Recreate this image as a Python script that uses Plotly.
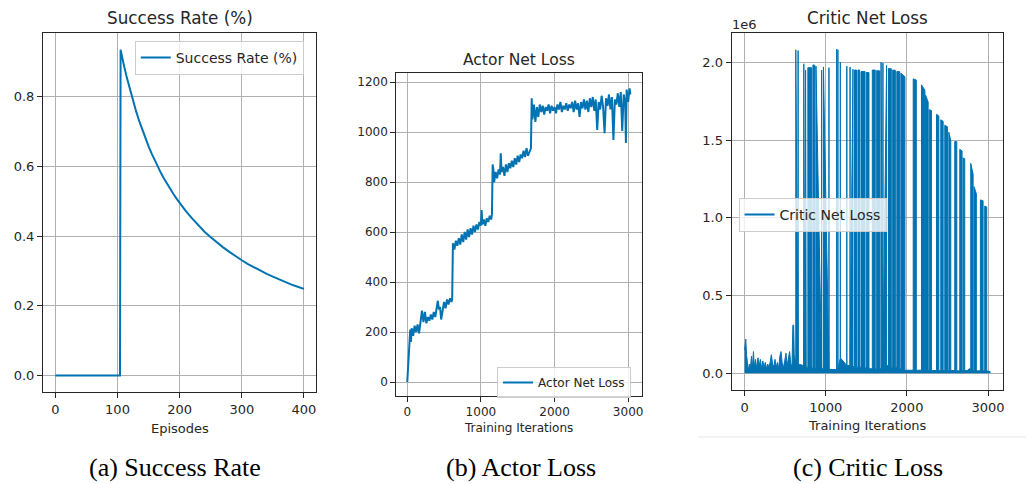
import plotly.graph_objects as go

# ---------------- data ----------------
episodes = [0, 50, 104, 105, 107, 110, 115, 120, 125, 130, 135, 140, 145, 150, 155, 160,
            165, 170, 175, 180, 185, 190, 195, 200, 210, 220, 230, 240, 250, 260, 270,
            280, 290, 300, 310, 320, 330, 340, 350, 360, 370, 380, 390, 400]
success_rate = [0.0, 0.0, 0.0, 0.935, 0.915, 0.893, 0.855, 0.82, 0.787, 0.758, 0.73, 0.704,
                0.68, 0.658, 0.637, 0.617, 0.599, 0.581, 0.565, 0.549, 0.535, 0.521, 0.508,
                0.495, 0.472, 0.451, 0.431, 0.413, 0.397, 0.382, 0.368, 0.355, 0.342, 0.331,
                0.32, 0.31, 0.301, 0.292, 0.284, 0.276, 0.268, 0.261, 0.255, 0.249]

actor_iters = [0, 10, 20, 30, 40, 50, 60, 80, 100, 120, 140, 160, 180, 200, 220, 240, 260,
               280, 300, 320, 340, 360, 380, 400, 415, 430, 445, 460, 480, 500, 520, 540,
               560, 580, 600, 610, 620, 640, 660, 680, 700, 720, 740, 760, 780, 800, 820,
               840, 860, 880, 900, 920, 940, 960, 980, 1000, 1010, 1020, 1040, 1060, 1080,
               1100, 1120, 1140, 1150, 1160, 1170, 1180, 1200, 1220, 1240, 1260, 1270, 1280,
               1300, 1320, 1340, 1360, 1380, 1400, 1420, 1440, 1460, 1480, 1500, 1520, 1540,
               1560, 1580, 1600, 1620, 1640, 1660, 1680, 1690, 1700, 1720, 1740, 1760, 1780,
               1800, 1820, 1840, 1860, 1880, 1900, 1920, 1940, 1960, 1980, 2000, 2020, 2040,
               2060, 2080, 2100, 2120, 2140, 2160, 2180, 2200, 2220, 2240, 2260, 2280, 2300,
               2320, 2340, 2360, 2380, 2400, 2420, 2440, 2460, 2480, 2500, 2520, 2540, 2560,
               2580, 2600, 2620, 2640, 2660, 2680, 2700, 2720, 2740, 2760, 2780, 2800, 2820,
               2840, 2860, 2880, 2900, 2920, 2940, 2960, 2970, 2980, 3000, 3020, 3030]
actor_loss = [0, 60, 130, 170, 210, 160, 215, 185, 225, 200, 230, 195, 240, 285, 240, 280, 235,
              260, 245, 270, 250, 280, 260, 290, 325, 290, 300, 250, 290, 320, 295, 330,
              310, 335, 320, 330, 555, 530, 565, 545, 575, 550, 590, 560, 600, 570, 610,
              580, 615, 590, 625, 600, 630, 610, 640, 625, 688, 630, 650, 625, 655,
              640, 665, 650, 670, 870, 850, 800, 840, 815, 850, 830, 915, 840,
              860, 825, 870, 840, 875, 855, 885, 860, 895, 870, 905, 880, 910,
              895, 925, 900, 935, 905, 920, 935, 1135, 1050, 1110, 1040, 1100, 1060,
              1110, 1080, 1105, 1070, 1100, 1085, 1110, 1075, 1105, 1085, 1100, 1075, 1110,
              1090, 1120, 1080, 1105, 1090, 1115, 1085, 1110, 1095, 1120, 1080, 1125, 1090,
              1115, 1060, 1120, 1095, 1130, 1090, 1125, 1080, 1135, 1100, 1140, 1085, 1130,
              1008, 1120, 1090, 1145, 1100, 995, 1135, 1105, 1150, 1090, 1140, 968, 1130,
              1110, 1155, 1100, 1160, 1004, 1150, 1120, 956, 1170, 1120, 1175, 1150]

# critic loss (in units of 1e6): low baseline readings ...
critic_base_iters = [0, 5, 15, 25, 35, 45, 60, 70, 85, 95, 110, 120, 135, 150, 165, 180, 195,
                     210, 225, 240, 255, 270, 285, 300, 315, 330, 345, 360, 375, 390, 405,
                     420, 435, 450, 465, 480, 495, 510, 525, 540, 555, 570, 585, 595, 605,
                     612, 625, 640, 660, 700, 760, 800, 870, 950, 1000, 1100, 1150, 1170,
                     1185, 1250, 1350, 1450, 1550, 1650, 1700, 1715, 1740, 1800, 1900, 1960,
                     2000, 2200, 2400, 2600, 2750, 2770, 2800, 3000, 3030]
critic_base_loss = [0.15, 0.21, 0.22, 0.12, 0.05, 0.02, 0.06, 0.02, 0.11, 0.03, 0.14, 0.04,
                    0.09, 0.03, 0.1, 0.05, 0.09, 0.03, 0.08, 0.04, 0.07, 0.03, 0.06, 0.04,
                    0.07, 0.12, 0.06, 0.04, 0.09, 0.04, 0.07, 0.03, 0.11, 0.14, 0.06, 0.04,
                    0.08, 0.13, 0.05, 0.1, 0.14, 0.06, 0.05, 0.31, 0.31, 0.12, 0.07, 0.1,
                    0.06, 0.05, 0.04, 0.035, 0.03, 0.03, 0.025, 0.025, 0.03, 0.1, 0.07,
                    0.05, 0.04, 0.035, 0.03, 0.03, 0.035, 0.08, 0.05, 0.04, 0.03, 0.02,
                    0.02, 0.018, 0.018, 0.016, 0.02, 0.03, 0.016, 0.015, 0.01]
# ... and high-loss bursts: start iter, end iter, height at start, height at end (1e6)
spike_start = [631, 660, 730, 780, 842, 880, 972, 1040, 1135, 1150, 1180, 1260, 1300, 1355,
               1397, 1435, 1500, 1574, 1628, 1682, 1705, 1773, 1825, 1876, 1926, 2078,
               2180, 2229, 2275, 2365, 2418, 2467, 2517, 2590, 2652, 2693, 2787, 2828, 2906,
               2959]
spike_end = [660, 730, 752, 826, 866, 950, 1040, 1135, 1150, 1180, 1260, 1300, 1336, 1380,
             1418, 1484, 1533, 1610, 1668, 1705, 1750, 1808, 1858, 1911, 1976, 2116,
             2222, 2262, 2303, 2394, 2447, 2500, 2541, 2615, 2680, 2713, 2816, 2856, 2939,
             2984]
spike_top_start = [2.08, 2.0, 1.98, 1.965, 1.983, 1.975, 1.97, 1.96, 2.085, 2.025, 1.97,
                   1.975, 1.96, 1.95, 1.95, 1.94, 1.935, 1.95, 1.946, 2.0, 1.985, 1.96, 1.95,
                   1.94, 1.93, 1.893, 1.855, 1.79, 1.695, 1.665, 1.63, 1.595, 1.55,
                   1.49, 1.44, 1.385, 1.35, 1.2, 1.115, 1.075]
spike_top_end = [2.075, 1.99, 1.95, 1.965, 1.98, 1.95, 1.965, 1.958, 2.08, 2.0, 1.965,
                 1.97, 1.955, 1.95, 1.95, 1.94, 1.933, 1.95, 1.944, 1.995, 1.98, 1.958,
                 1.948, 1.94, 1.907, 1.886, 1.82, 1.745, 1.69, 1.655, 1.62, 1.585, 1.495,
                 1.49, 1.43, 1.38, 1.28, 1.155, 1.11, 1.07]

# ---------------- build critic series ----------------
def base_at(x):
    val = critic_base_loss[0]
    for bx, by in zip(critic_base_iters, critic_base_loss):
        if bx <= x:
            val = by
    return val

pts = []
for bx, by in zip(critic_base_iters, critic_base_loss):
    if not any(s < bx < e for s, e in zip(spike_start, spike_end)):
        pts.append((bx, 0, by))
for s, e, h0, h1 in zip(spike_start, spike_end, spike_top_start, spike_top_end):
    pts.append((s, 1, base_at(s)))
    pts.append((s, 2, h0))
    pts.append((e, 3, h1))
    pts.append((e, 4, base_at(e)))
pts.sort()
critic_x = [p[0] for p in pts]
critic_y = [p[2] * 1e6 for p in pts]

BLUE = "#0173b2"
FONT = "DejaVu Sans"
TXT = "#262626"

fig = go.Figure()
fig.add_trace(go.Scatter(x=episodes, y=success_rate, mode="lines", name="Success Rate (%)",
                         line=dict(color=BLUE, width=2), xaxis="x", yaxis="y", legend="legend"))
fig.add_trace(go.Scatter(x=actor_iters, y=actor_loss, mode="lines", name="Actor Net Loss",
                         line=dict(color=BLUE, width=2), xaxis="x2", yaxis="y2", legend="legend2"))
fig.add_trace(go.Scatter(x=critic_x, y=critic_y, mode="lines", fill="tozeroy", fillcolor=BLUE,
                         line=dict(color=BLUE, width=1), showlegend=False,
                         xaxis="x3", yaxis="y3"))
fig.add_trace(go.Scatter(x=[None], y=[None], mode="lines", name="Critic Net Loss",
                         line=dict(color=BLUE, width=2), xaxis="x3", yaxis="y3", legend="legend3"))

W, H = 1028, 484

def dom_x(a, b):
    return [a / W, b / W]

def dom_y(top, bottom):
    return [1 - bottom / H, 1 - top / H]

def ax(domain, rng, tickvals, ticktext, size, anchor):
    return dict(domain=domain, range=rng, tickvals=tickvals, ticktext=ticktext,
                showline=True, mirror=True, linecolor=TXT, linewidth=1,
                ticks="outside", ticklen=5, tickcolor=TXT, tickwidth=1,
                showgrid=True, gridcolor="#b0b0b0", gridwidth=1, zeroline=False,
                tickfont=dict(family=FONT, size=size, color=TXT), anchor=anchor)

it_ticks = [0, 1000, 2000, 3000]
fig.update_layout(
    width=W, height=H, margin=dict(l=0, r=0, t=0, b=0),
    paper_bgcolor="white", plot_bgcolor="white",
    xaxis=ax(dom_x(43, 317), [-20, 420], [0, 100, 200, 300, 400],
             ["0", "100", "200", "300", "400"], 13, "y"),
    yaxis=ax(dom_y(33, 392), [-0.047, 0.983], [0, 0.2, 0.4, 0.6, 0.8],
             ["0.0", "0.2", "0.4", "0.6", "0.8"], 13, "x"),
    xaxis2=ax(dom_x(397, 643), [-150, 3185], it_ticks, [str(t) for t in it_ticks], 12, "y2"),
    yaxis2=ax(dom_y(73, 396), [-56, 1236], [0, 200, 400, 600, 800, 1000, 1200],
              ["0", "200", "400", "600", "800", "1000", "1200"], 12, "x2"),
    xaxis3=ax(dom_x(733, 1005), [-160, 3185], it_ticks, [str(t) for t in it_ticks], 13, "y3"),
    yaxis3=ax(dom_y(33, 390), [-0.107e6, 2.188e6], [0, 0.5e6, 1.0e6, 1.5e6, 2.0e6],
              ["0.0", "0.5", "1.0", "1.5", "2.0"], 13, "x3"),
)

leg_common = dict(bgcolor="rgba(255,255,255,0.8)", bordercolor="#cccccc", borderwidth=1,
                  xanchor="left", yanchor="top")
fig.update_layout(
    legend=dict(x=135 / W, y=1 - 41 / H, font=dict(family=FONT, size=14, color=TXT), **leg_common),
    legend2=dict(x=498 / W, y=1 - 367 / H, font=dict(family=FONT, size=12, color=TXT), **leg_common),
    legend3=dict(x=740 / W, y=1 - 198 / H, font=dict(family=FONT, size=14, color=TXT), **leg_common),
)

def label(text, x, y, size, family=FONT, color=TXT):
    fig.add_annotation(text=text, x=x / W, y=1 - y / H, xref="paper", yref="paper",
                       xanchor="center", yanchor="middle", showarrow=False,
                       font=dict(family=family, size=size, color=color))

label("Success Rate (%)", 180, 18, 16.8)
label("Actor Net Loss", 520, 60, 15.5)
label("Critic Net Loss", 869, 18, 16.8)
label("Episodes", 180, 428, 13)
label("Training Iterations", 520, 428, 12)
label("Training Iterations", 869, 425, 13)
label("1e6", 746, 25, 13)
label("(a) Success Rate", 175, 467, 26, family="Liberation Serif", color="black")
label("(b) Actor Loss", 522, 467, 26, family="Liberation Serif", color="black")
label("(c) Critic Loss", 870, 467, 26, family="Liberation Serif", color="black")

fig.add_shape(type="line", xref="paper", yref="paper", x0=700 / W, x1=1.0,
              y0=1 - 437 / H, y1=1 - 437 / H, line=dict(color="#e6e6e6", width=1))

fig.write_html("out.html")
